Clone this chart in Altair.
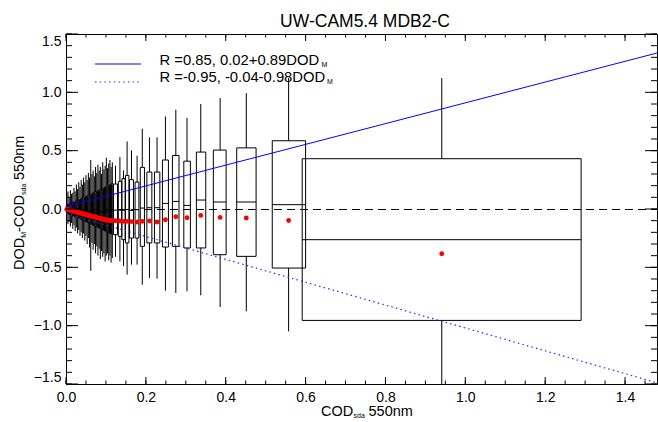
import altair as alt
import pandas as pd

FONT = "Liberation Sans"
TITLE = "UW-CAM5.4 MDB2-C"

# ---- binned statistics: narrow bins (box half-width below), then wider bins with measured edges
dense_xc = [0.002, 0.005, 0.008, 0.011, 0.014, 0.017, 0.020, 0.023, 0.026, 0.029,
            0.032, 0.035, 0.038, 0.041, 0.044, 0.047, 0.050, 0.053, 0.056, 0.059,
            0.062, 0.065, 0.068, 0.071, 0.074, 0.077, 0.080, 0.083, 0.086, 0.089,
            0.092, 0.095, 0.098, 0.101, 0.104, 0.107, 0.110, 0.113, 0.116]
dense_wlo = [-0.12, -0.13, -0.11, -0.15, -0.12, -0.17, -0.14, -0.19, -0.16, -0.21,
             -0.18, -0.23, -0.20, -0.25, -0.21, -0.27, -0.23, -0.30, -0.25, -0.33,
             -0.53, -0.29, -0.35, -0.30, -0.38, -0.32, -0.40, -0.34, -0.43, -0.36,
             -0.41, -0.38, -0.45, -0.40, -0.38, -0.44, -0.40, -0.46, -0.42]
dense_q1 = [-0.03, -0.04, -0.04, -0.05, -0.05, -0.06, -0.05, -0.07, -0.06, -0.08,
            -0.07, -0.08, -0.09, -0.09, -0.10, -0.10, -0.11, -0.11, -0.12, -0.12,
            -0.13, -0.13, -0.14, -0.14, -0.15, -0.15, -0.16, -0.16, -0.17, -0.17,
            -0.18, -0.18, -0.19, -0.19, -0.20, -0.20, -0.21, -0.21, -0.22]
dense_med = [0.00, 0.00, -0.01, 0.00, -0.01, 0.00, -0.01, -0.01, 0.00, -0.01,
             -0.01, -0.02, -0.01, -0.02, -0.01, -0.02, -0.02, -0.02, -0.01, -0.02,
             -0.02, -0.02, -0.03, -0.02, -0.03, -0.02, -0.03, -0.02, -0.03, -0.02,
             -0.03, -0.02, -0.03, -0.02, -0.03, -0.02, -0.02, -0.02, -0.02]
dense_q3 = [0.03, 0.04, 0.04, 0.05, 0.04, 0.06, 0.05, 0.06, 0.07, 0.06,
            0.08, 0.07, 0.09, 0.08, 0.10, 0.09, 0.11, 0.10, 0.12, 0.11,
            0.13, 0.12, 0.14, 0.13, 0.15, 0.14, 0.16, 0.15, 0.17, 0.16,
            0.18, 0.17, 0.19, 0.18, 0.20, 0.19, 0.21, 0.20, 0.22]
dense_whi = [0.14, 0.15, 0.10, 0.16, 0.13, 0.14, 0.18, 0.15, 0.21, 0.17,
             0.23, 0.19, 0.25, 0.21, 0.27, 0.23, 0.29, 0.25, 0.31, 0.27,
             0.42, 0.30, 0.33, 0.28, 0.36, 0.31, 0.38, 0.33, 0.36, 0.30,
             0.40, 0.34, 0.37, 0.44, 0.35, 0.39, 0.42, 0.36, 0.40]
dense_mean = [-0.003, -0.006, -0.008, -0.011, -0.014, -0.017, -0.020, -0.023, -0.026, -0.029,
              -0.031, -0.034, -0.037, -0.040, -0.043, -0.046, -0.048, -0.051, -0.054, -0.056,
              -0.059, -0.062, -0.065, -0.067, -0.070, -0.073, -0.076, -0.078, -0.081, -0.084,
              -0.087, -0.089, -0.092, -0.094, -0.096, -0.097, -0.099, -0.100, -0.100]
DENSE_HALF = 0.0013

wide_xlo = [0.119, 0.131, 0.140, 0.149, 0.159, 0.173, 0.186, 0.2025, 0.2215, 0.2415,
            0.2665, 0.295, 0.3265, 0.369, 0.4275, 0.5165, 0.5915]
wide_xhi = [0.129, 0.1395, 0.148, 0.1575, 0.169, 0.1825, 0.1965, 0.215, 0.235, 0.2565,
            0.283, 0.3115, 0.350, 0.401, 0.476, 0.600, 1.290]
wide_xc = [0.124, 0.135, 0.144, 0.153, 0.164, 0.178, 0.191, 0.209, 0.228, 0.249,
           0.275, 0.303, 0.3375, 0.386, 0.4515, 0.5575, 0.941]
wide_wlo = [-0.41, -0.45, -0.49, -0.563, -0.477, -0.477, -0.649, -0.591, -0.597, -0.70,
            -0.72, -0.706, -0.74, -0.84, -0.877, -1.049, -1.60]
wide_q1 = [-0.22, -0.235, -0.263, -0.291, -0.249, -0.249, -0.32, -0.291, -0.291, -0.326,
           -0.32, -0.334, -0.334, -0.392, -0.406, -0.506, -0.955]
wide_med = [-0.01, -0.01, -0.01, -0.004, -0.012, -0.006, 0.008, 0.011, 0.011, 0.048,
            0.065, 0.031, 0.077, 0.06, 0.06, 0.037, -0.263]
wide_q3 = [0.214, 0.237, 0.26, 0.288, 0.251, 0.231, 0.357, 0.317, 0.317, 0.42,
           0.459, 0.41, 0.488, 0.505, 0.524, 0.585, 0.431]
wide_whi = [0.371, 0.446, 0.33, 0.579, 0.502, 0.457, 0.688, 0.614, 0.614, 0.793,
            0.851, 0.78, 0.90, 0.951, 0.994, 1.123, 1.123]
wide_mean = [-0.101, -0.103, -0.106, -0.106, -0.108, -0.111, -0.106, -0.103, -0.111, -0.092,
             -0.066, -0.075, -0.055, -0.072, -0.077, -0.098, -0.383]

# regression lines (end points)
fit_x = [0.0, 1.48]
fit1_y = [0.02, 1.337]
fit2_y = [-0.04, -1.49]

# axes
x_major = [0.0, 0.2, 0.4, 0.6, 0.8, 1.0, 1.2, 1.4]
x_minor = [round(0.05 * i, 2) for i in range(30)]
y_major = [-1.5, -1.0, -0.5, 0.0, 0.5, 1.0, 1.5]
y_minor = [round(-1.5 + 0.1 * i, 2) for i in range(31)]

legend1 = "R =0.85, 0.02+0.89DOD"
legend2 = "R =-0.95, -0.04-0.98DOD"

W, H = 591, 350

df = pd.DataFrame({
    "xlo": [c - DENSE_HALF for c in dense_xc] + wide_xlo,
    "xhi": [c + DENSE_HALF for c in dense_xc] + wide_xhi,
    "xc": dense_xc + wide_xc,
    "wlo": dense_wlo + wide_wlo,
    "q1": dense_q1 + wide_q1,
    "med": dense_med + wide_med,
    "q3": dense_q3 + wide_q3,
    "whi": dense_whi + wide_whi,
    "mean": dense_mean + wide_mean,
})

xscale = alt.Scale(domain=[0, 1.48], nice=False, zero=False)
yscale = alt.Scale(domain=[-1.5, 1.5], nice=False, zero=False)

xaxis = alt.Axis(values=x_major, format=".1f", ticks=False, grid=False, title=None,
                 labelFont=FONT, labelFontSize=14, labelColor="black", labelPadding=6,
                 domainColor="black", labelFlush=False)
yaxis = alt.Axis(values=y_major, format=".1f", ticks=False, grid=False, title=None,
                 labelFont=FONT, labelFontSize=14, labelColor="black", labelPadding=5,
                 domainColor="black", labelFlush=True)


def X(field):
    return alt.X(field, scale=xscale, axis=xaxis)


def Y(field):
    return alt.Y(field, scale=yscale, axis=yaxis)


base = alt.Chart(df)

boxes = base.mark_rect(fill="white", fillOpacity=0, stroke="black", strokeWidth=1).encode(
    x=X("xlo:Q"), x2="xhi:Q", y=Y("q1:Q"), y2="q3:Q")
medians = base.mark_rule(color="black", strokeWidth=1).encode(
    x=X("xlo:Q"), x2="xhi:Q", y=Y("med:Q"))
upper = base.mark_rule(color="black", strokeWidth=1, clip=True).encode(
    x=X("xc:Q"), y=Y("q3:Q"), y2="whi:Q")
lower = base.mark_rule(color="black", strokeWidth=1, clip=True).encode(
    x=X("xc:Q"), y=Y("wlo:Q"), y2="q1:Q")

zero = alt.Chart(pd.DataFrame({"y": [0.0]})).mark_rule(
    color="black", strokeWidth=1, strokeDash=[8, 5], yOffset=0.5).encode(
    y=Y("y:Q"), x=alt.value(0), x2=alt.value(W))

fits = pd.DataFrame({"x": fit_x, "y1": fit1_y, "y2": fit2_y})
fit1 = alt.Chart(fits).mark_line(color="#0000ff", strokeWidth=1, clip=True).encode(
    x=X("x:Q"), y=Y("y1:Q"))
fit2 = alt.Chart(fits).mark_line(color="#2a2aff", strokeWidth=1.2, strokeDash=[1.5, 3.2], clip=True).encode(
    x=X("x:Q"), y=Y("y2:Q"))

means = base.mark_circle(color="#ff0000", size=24, opacity=1).encode(
    x=X("xc:Q"), y=Y("mean:Q"))


def xticks(vals, length):
    d = alt.Chart(pd.DataFrame({"v": vals}))
    b = d.mark_rule(color="black", strokeWidth=1).encode(
        x=X("v:Q"), y=alt.value(H), y2=alt.value(H - length))
    t = d.mark_rule(color="black", strokeWidth=1).encode(
        x=X("v:Q"), y=alt.value(0), y2=alt.value(length))
    return [b, t]


def yticks(vals, length):
    d = alt.Chart(pd.DataFrame({"v": vals}))
    l = d.mark_rule(color="black", strokeWidth=1).encode(
        y=Y("v:Q"), x=alt.value(0), x2=alt.value(length))
    r = d.mark_rule(color="black", strokeWidth=1).encode(
        y=Y("v:Q"), x=alt.value(W), x2=alt.value(W - length))
    return [l, r]


def label(text, x, y, size, angle=0, align="left", baseline="alphabetic"):
    return alt.Chart(pd.DataFrame({"t": [text]})).mark_text(
        align=align, baseline=baseline, fontSize=size, font=FONT, angle=angle, color="black"
    ).encode(x=alt.value(x), y=alt.value(y), text="t:N")


def legend_line(y, dash=None, color="#0000ff"):
    kw = dict(color=color, strokeWidth=1)
    if dash:
        kw["strokeDash"] = dash
        kw["strokeWidth"] = 1.2
    return alt.Chart(pd.DataFrame({"k": [0]})).mark_rule(**kw).encode(
        x=alt.value(29), x2=alt.value(75), y=alt.value(y))


texts = [
    label(TITLE, 299, -7.5, 17.5, align="center"),
    # legend
    label(legend1, 93.5, 31, 14.8),
    label("M", 255.5, 32.5, 7),
    label(legend2, 93.5, 48, 14.8),
    label("M", 261, 49.5, 7),
    # x title
    label("COD", 255, 382, 14.5),
    label("sda", 287.5, 384, 7),
    label("550nm", 302.5, 382, 14.5),
    # y title (rotated)
    label("DOD", -42.5, 236, 14.5, angle=270),
    label("M", -40, 203.8, 7, angle=270),
    label("-COD", -42.5, 198, 14.5, angle=270),
    label("sda", -40, 161, 7, angle=270),
    label("550nm", -42.5, 146, 14.5, angle=270),
]

layers = [boxes, medians, upper, lower, zero, fit1, fit2, means]
layers += xticks(x_minor, 3.5) + xticks(x_major, 7)
layers += yticks(y_minor, 6) + yticks(y_major, 12)
layers += [legend_line(30), legend_line(48, dash=[1.5, 3.2], color="#2a2aff")]
layers += texts

chart = alt.layer(*layers).properties(
    width=W, height=H,
    autosize=alt.AutoSizeParams(type="none"),
    padding={"left": 66, "top": 34, "right": 1, "bottom": 38},
    background="white",
).configure_view(stroke="black", strokeWidth=1)

chart.save("out.html", embed_options={"renderer": "svg", "actions": False})
